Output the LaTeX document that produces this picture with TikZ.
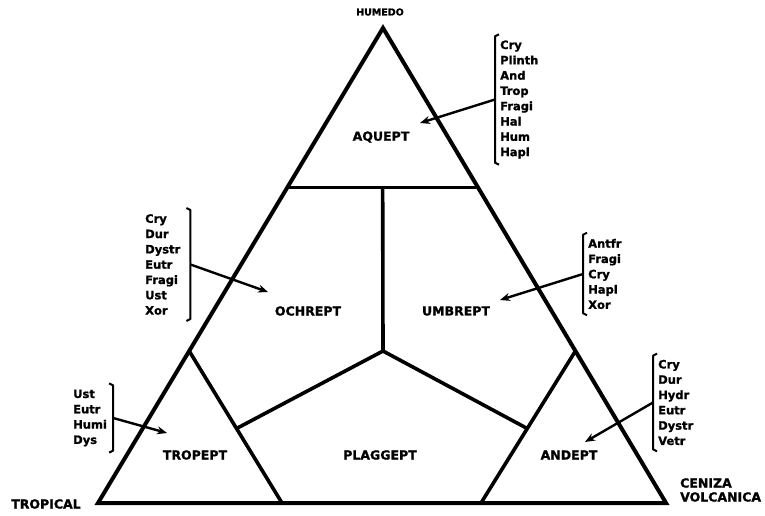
\documentclass[tikz,border=0pt]{standalone}
\usepackage{fontspec}
\setmainfont{DejaVu Sans}[BoldFont={DejaVu Sans Bold}, BoldFeatures={FakeBold=1.2}]
\usetikzlibrary{arrows.meta, calc, positioning}

\begin{document}
\begin{tikzpicture}[x=1pt, y=1pt,
  side/.style={line width=4pt},
  part/.style={line width=3.6pt},
  soil/.style={font=\fontsize{12.5}{14}\selectfont\bfseries, inner sep=0pt},
  corner/.style={font=\fontsize{12.5}{14}\selectfont\bfseries, inner sep=0pt},
  sub/.style={font=\fontsize{11.5}{15.3}\selectfont\bfseries, align=left, inner sep=0pt, anchor=west},
  brk/.style={line width=2pt, line join=round},
  arr/.style={line width=2.4pt, -{Stealth[length=10pt, width=8pt]}}]
  \useasboundingbox (0,0) rectangle (765,515);

  % triangle
  \coordinate (apex) at (383,487);
  \coordinate (cl) at (98,12);
  \coordinate (cr) at (666,12);
  \draw[side] (apex) -- (cl) -- (cr) -- cycle;

  % inner divisions
  \coordinate (la) at ($(apex)!0.336!(cl)$);
  \coordinate (ra) at ($(apex)!0.336!(cr)$);
  \coordinate (ma) at ($(la)!0.5!(ra)$);
  \coordinate (mc) at (383,164);
  \coordinate (lb) at ($(apex)!0.68!(cl)$);
  \coordinate (rb) at ($(apex)!0.68!(cr)$);
  \coordinate (lbot) at (282,12);
  \coordinate (rbot) at (481,12);
  \coordinate (lj) at ($(lb)!0.51!(lbot)$);
  \coordinate (rj) at ($(rb)!0.51!(rbot)$);
  \draw[part] (la) -- (ra);
  \draw[part] (ma) -- (mc);
  \draw[part] (lb) -- (lbot);
  \draw[part] (rb) -- (rbot);
  \draw[part] (lj) -- (mc) -- (rj);

  % corner names
  \node[font=\fontsize{9.5}{11}\selectfont\bfseries, inner sep=0pt] (humedo) at (380,503) {HUMEDO};
  \node[corner] (tropical) at (46,11) {TROPICAL};
  \node[corner, align=left, anchor=west] (ceniza) at (680,25) {CENIZA\\VOLCANICA};

  % suborders
  \node[soil] (aquept) at (381,378) {AQUEPT};
  \node[soil] (ochrept) at (308,204) {OCHREPT};
  \node[soil] (umbrept) at (456,204) {UMBREPT};
  \node[soil] (tropept) at (195,60) {TROPEPT};
  \node[soil] (plaggept) at (380,60) {PLAGGEPT};
  \node[soil] (andept) at (569,60) {ANDEPT};

  % great groups, right side
  \node[sub] (aqlist) at (500,415.5) {Cry\\Plinth\\And\\Trop\\Fragi\\Hal\\Hum\\Hapl};
  \draw[brk] ($(aqlist.north west)+(-1,6)$) -- ++(-4,-2) -- ($(aqlist.south west)+(-5,-4)$) -- ++(4,-2);
  \coordinate (aqb) at ($(aqlist.west)+(-5,0)$);
  \coordinate (aqend) at (420,392);
  \draw[arr] (aqb) -- (aqend);

  \node[sub] (umblist) at (588,241) {Antfr\\Fragi\\Cry\\Hapl\\Xor};
  \draw[brk] ($(umblist.north west)+(-1,6)$) -- ++(-4,-2) -- ($(umblist.south west)+(-5,-4)$) -- ++(4,-2);
  \coordinate (umbb) at ($(umblist.west)+(-5,0)$);
  \coordinate (umbend) at (500,215);
  \draw[arr] (umbb) -- (umbend);

  \node[sub] (andlist) at (658,112.5) {Cry\\Dur\\Hydr\\Eutr\\Dystr\\Vetr};
  \draw[brk] ($(andlist.north west)+(-1,6)$) -- ++(-4,-2) -- ($(andlist.south west)+(-5,-4)$) -- ++(4,-2);
  \coordinate (andb) at ($(andlist.west)+(-5,0)$);
  \coordinate (andend) at (585,73);
  \draw[arr] (andb) -- (andend);

  % great groups, left side
  \node[sub] (ochlist) at (145,250.5) {Cry\\Dur\\Dystr\\Eutr\\Fragi\\Ust\\Xor};
  \draw[brk] ($(ochlist.north east)+(6,6)$) -- ++(4,-2) -- ($(ochlist.south east)+(10,-4)$) -- ++(-4,-2);
  \coordinate (ochb) at ($(ochlist.east)+(10,0)$);
  \coordinate (ochend) at (268,223);
  \draw[arr] (ochb) -- (ochend);

  \node[sub] (trolist) at (73,97) {Ust\\Eutr\\Humi\\Dys};
  \draw[brk] ($(trolist.north east)+(2,6)$) -- ++(4,-2) -- ($(trolist.south east)+(6,-4)$) -- ++(-4,-2);
  \coordinate (trob) at ($(trolist.east)+(6,0)$);
  \coordinate (troend) at (167,82);
  \draw[arr] (trob) -- (troend);
\end{tikzpicture}
\end{document}
